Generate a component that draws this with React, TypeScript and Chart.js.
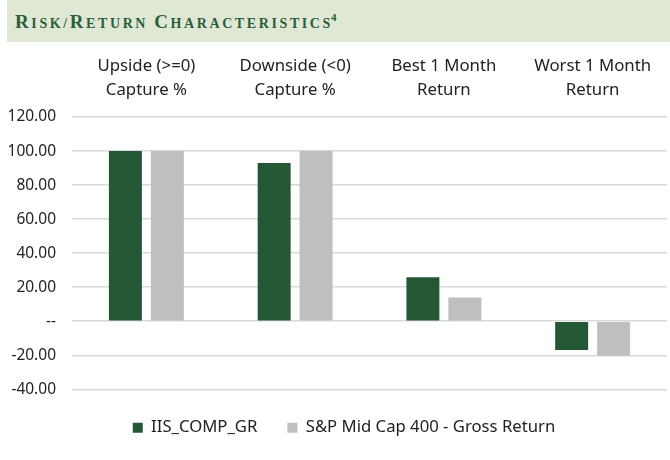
import React, { useEffect, useRef } from "react";
import { Chart, registerables } from "chart.js";

Chart.register(...registerables);

const categories: string[][] = [
  ["Upside (>=0)", "Capture %"],
  ["Downside (<0)", "Capture %"],
  ["Best 1 Month", "Return"],
  ["Worst 1 Month", "Return"],
];
const seriesNames = ["IIS_COMP_GR", "S&P Mid Cap 400 - Gross Return"];
const fundValues = [100.0, 93.0, 25.8, -16.9];
const benchValues = [100.0, 100.0, 14.0, -20.3];
const yTicks = [-40, -20, 0, 20, 40, 60, 80, 100, 120];

const GREEN = "#245835";
const GRAY = "#bfbfbf";
const FONT = "'Noto Sans', 'Open Sans', sans-serif";

function SmallCapsWord({ word }: { word: string }) {
  return (
    <>
      <span style={{ fontSize: 19 }}>{word[0]}</span>
      <span style={{ fontSize: 14 }}>{word.slice(1)}</span>
    </>
  );
}

const legendShift = {
  id: "legendShift",
  afterLayout(chart: any) {
    if (chart.legend) chart.legend.left += 21;
  },
};

export default function App() {
  const ref = useRef<HTMLCanvasElement | null>(null);

  useEffect(() => {
    document.body.style.margin = "0";
    if (!ref.current) return;
    const chart = new Chart(ref.current, {
      type: "bar",
      data: {
        labels: categories,
        datasets: [
          {
            label: seriesNames[0],
            data: fundValues,
            backgroundColor: GREEN,
            barPercentage: 0.786,
            categoryPercentage: 0.564,
          },
          {
            label: seriesNames[1],
            data: benchValues,
            backgroundColor: GRAY,
            barPercentage: 0.786,
            categoryPercentage: 0.564,
          },
        ],
      },
      plugins: [legendShift],
      options: {
        animation: false,
        responsive: false,
        maintainAspectRatio: false,
        layout: { padding: { left: 0, right: 3, top: 0, bottom: 14 } },
        plugins: {
          tooltip: { enabled: false },
          legend: {
            position: "bottom",
            labels: {
              boxWidth: 10,
              boxHeight: 10,
              padding: 30,
              color: "#222",
              font: { family: FONT, size: 16.7 },
            },
          },
        },
        scales: {
          x: {
            position: "top",
            grid: { display: false, drawTicks: false },
            border: { display: false },
            ticks: {
              color: "#222",
              font: { family: FONT, size: 16.8, lineHeight: 1.43 },
              padding: 15,
              maxRotation: 0,
            },
          },
          y: {
            min: yTicks[0],
            max: yTicks[yTicks.length - 1],
            afterBuildTicks: (axis: any) => {
              axis.ticks = yTicks.map((v) => ({ value: v }));
            },
            afterFit: (axis: any) => {
              axis.width = 72;
            },
            grid: { color: "#d9d9d9", lineWidth: 1.5, drawTicks: false },
            border: { display: false },
            ticks: {
              color: "#222",
              font: { family: FONT, size: 15.5 },
              padding: 16,
              callback: (v: any) => (Number(v) === 0 ? "--" : Number(v).toFixed(2)),
            },
          },
        },
      },
    });
    return () => chart.destroy();
  }, []);

  return (
    <div style={{ position: "relative", width: 670, height: 460, background: "#fff" }}>
      <div
        style={{
          position: "absolute",
          left: 7,
          top: 0,
          width: 663,
          height: 42,
          background: "#dfe7d5",
          fontFamily: "'Liberation Serif', 'Times New Roman', serif",
          fontWeight: "bold",
          color: "#2b5e38",
          lineHeight: "34px",
          paddingLeft: 8,
          boxSizing: "border-box",
          letterSpacing: "2.6px",
          whiteSpace: "nowrap",
        }}
      >
        <SmallCapsWord word="RISK/" />
        <SmallCapsWord word="RETURN" />
        <span style={{ fontSize: 14 }}> </span>
        <SmallCapsWord word="CHARACTERISTICS" />
        <sup style={{ fontSize: 11, verticalAlign: "7px", letterSpacing: 0, marginLeft: -2 }}>4</sup>
      </div>
      <canvas
        ref={ref}
        width={670}
        height={421}
        style={{ position: "absolute", left: 0, top: 39, width: 670, height: 421 }}
      />
    </div>
  );
}
